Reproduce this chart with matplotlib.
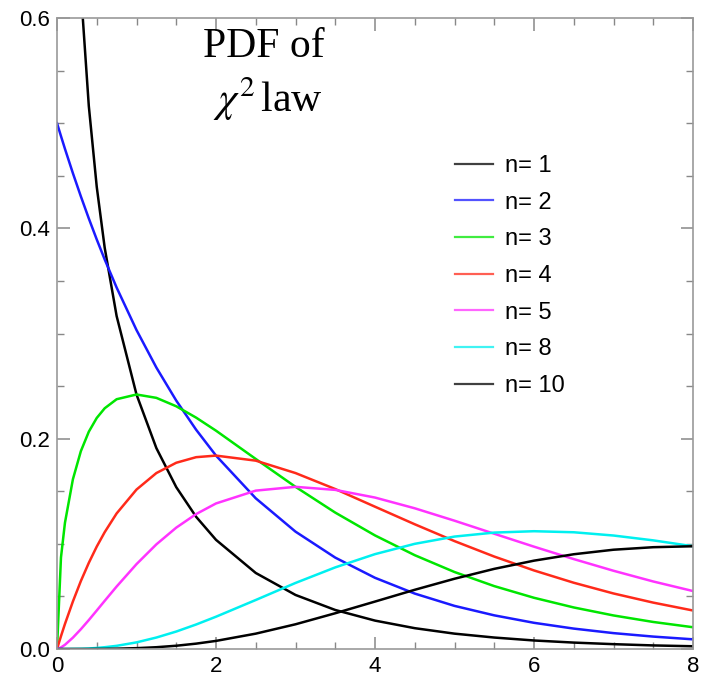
import numpy as np
import matplotlib.pyplot as plt
from matplotlib.ticker import MultipleLocator, FormatStrFormatter

plt.rcParams['font.family'] = ['Liberation Sans', 'DejaVu Sans']
plt.rcParams['mathtext.fontset'] = 'stix'

# sample points along x
x = [0, 0.05, 0.1, 0.2, 0.3, 0.4, 0.5, 0.6, 0.75, 1, 1.25, 1.5, 1.75, 2, 2.5,
     3, 3.5, 4, 4.5, 5, 5.5, 6, 6.5, 7, 7.5, 8]

# values (n=1 starts off the top of the axes)
n1 = [3.0, 1.740, 1.200, 0.807, 0.627, 0.5164, 0.4394, 0.3815, 0.3166, 0.2420,
      0.1910, 0.1539, 0.1257, 0.1038, 0.0723, 0.0514, 0.0371, 0.0270, 0.0198,
      0.0146, 0.0109, 0.0081, 0.0061, 0.0046, 0.0034, 0.0026]
n2 = [0.5, 0.4877, 0.4756, 0.4524, 0.4304, 0.4094, 0.3894, 0.3704, 0.3437, 0.3033,
      0.2676, 0.2362, 0.2085, 0.1839, 0.1433, 0.1116, 0.0869, 0.0677, 0.0527,
      0.0410, 0.0320, 0.0249, 0.0194, 0.0151, 0.0118, 0.0092]
n3 = [0.0, 0.0870, 0.1200, 0.1614, 0.1881, 0.2066, 0.2197, 0.2289, 0.2375, 0.2420,
      0.2388, 0.2308, 0.2200, 0.2076, 0.1807, 0.1542, 0.1297, 0.1080, 0.0892,
      0.0732, 0.0598, 0.0487, 0.0395, 0.0319, 0.0257, 0.0207]
n4 = [0.0, 0.0122, 0.0238, 0.0452, 0.0646, 0.0819, 0.0974, 0.1111, 0.1289, 0.1516,
      0.1673, 0.1771, 0.1824, 0.1839, 0.1791, 0.1673, 0.1521, 0.1353, 0.1186,
      0.1026, 0.0879, 0.0747, 0.0630, 0.0528, 0.0441, 0.0366]
n5 = [0.0, 0.0015, 0.0040, 0.0108, 0.0188, 0.0275, 0.0366, 0.0458, 0.0594, 0.0807,
      0.0995, 0.1154, 0.1283, 0.1384, 0.1506, 0.1542, 0.1513, 0.1440, 0.1338,
      0.1220, 0.1096, 0.0973, 0.0855, 0.0744, 0.0642, 0.0551]
n8 = [0.0, 0.0, 0.0, 0.0001, 0.0002, 0.0005, 0.0010, 0.0017, 0.0030, 0.0063,
      0.0109, 0.0166, 0.0233, 0.0307, 0.0466, 0.0628, 0.0776, 0.0902, 0.1000,
      0.1069, 0.1107, 0.1120, 0.1110, 0.1079, 0.1033, 0.0977]
n10 = [0.0, 0.0, 0.0, 0.0, 0.0, 0.0, 0.0001, 0.0001, 0.0003, 0.0008,
       0.0017, 0.0031, 0.0051, 0.0077, 0.0146, 0.0235, 0.0340, 0.0451, 0.0563,
       0.0668, 0.0762, 0.0840, 0.0901, 0.0944, 0.0968, 0.0977]

series = [n1, n2, n3, n4, n5, n8, n10]
labels = ['n= 1', 'n= 2', 'n= 3', 'n= 4', 'n= 5', 'n= 8', 'n= 10']
colors = ['black', '#1a1aff', '#00e600', '#ff2a1a', '#ff33ff', '#00f0f0', 'black']

fig = plt.figure(figsize=(7.01, 6.82), dpi=100)
ax = fig.add_axes([57/701, 1 - 649/682, 636/701, 631/682])

for y, lab, c in zip(series, labels, colors):
    ax.plot(x, y, color=c, lw=1.8, label=lab)

ax.set_xlim(0, 8)
ax.set_ylim(0, 0.6)
ax.xaxis.set_major_locator(MultipleLocator(2))
ax.xaxis.set_minor_locator(MultipleLocator(0.5))
ax.yaxis.set_major_locator(MultipleLocator(0.2))
ax.yaxis.set_minor_locator(MultipleLocator(0.05))
ax.yaxis.set_major_formatter(FormatStrFormatter('%.1f'))
ax.tick_params(which='both', direction='in', top=True, right=True,
               color='#888888', labelsize=16, labelcolor='black')
ax.tick_params(which='major', length=9, width=1.1, pad=5)
ax.tick_params(which='minor', length=5, width=1.0)
for s in ax.spines.values():
    s.set_color('#999999')
    s.set_linewidth(1.2)

leg = ax.legend(loc='upper left', bbox_to_anchor=(455/701, 1 - 155/682),
                bbox_transform=fig.transFigure, frameon=False, fontsize=17,
                handlelength=1.6, handletextpad=0.5, labelspacing=0.62,
                borderpad=0, borderaxespad=0)
for h in leg.get_lines():
    h.set_linewidth(1.6)
    h.set_alpha(0.75)

fig.text(264/701, 1 - 47/682, 'PDF of', ha='center', va='center',
         fontsize=30, family='Liberation Serif')
fig.text(268/701, 1 - 99/682, r'$\chi^2\,$law', ha='center', va='center',
         fontsize=30, family='Liberation Serif')

fig.savefig('out.png', dpi=100)
